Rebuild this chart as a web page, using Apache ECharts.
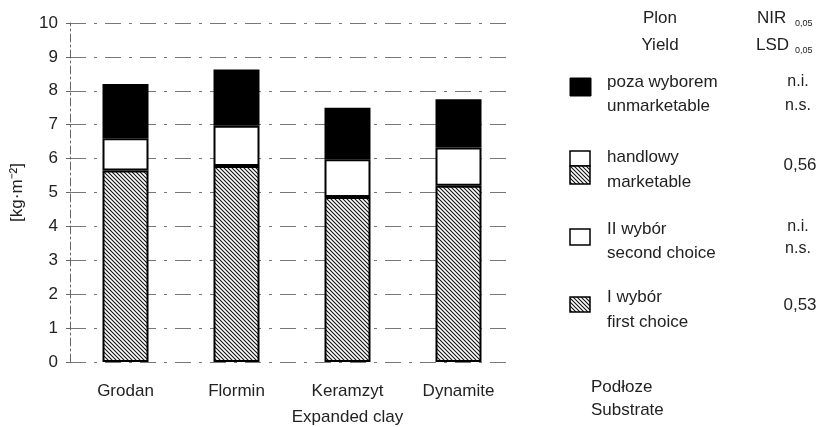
<!DOCTYPE html>
<html><head><meta charset="utf-8">
<script src="https://cdn.jsdelivr.net/npm/echarts@6/dist/echarts.min.js"></script>
<style>html,body{margin:0;padding:0;background:#fff}#c{width:823px;height:427px}</style>
</head><body><div id="c"></div>
<script>
var categories = ['Grodan', 'Flormin', 'Keramzyt\nExpanded clay', 'Dynamite'];
var firstChoice = [5.65, 5.78, 4.87, 5.20];
var secondChoice = [0.95, 1.19, 1.11, 1.13];
var unmarketable = [1.60, 1.66, 1.52, 1.42];
var yTicks = [0, 10, 1];

function hatch() {
  var c = document.createElement('canvas');
  c.width = 4; c.height = 4;
  var g = c.getContext('2d');
  g.fillStyle = '#fff'; g.fillRect(0, 0, 4, 4);
  g.strokeStyle = '#111'; g.lineWidth = 1.1;
  g.beginPath();
  g.moveTo(-1, -1); g.lineTo(5, 5);
  g.moveTo(-1, 3); g.lineTo(1, 5);
  g.moveTo(3, -1); g.lineTo(5, 1);
  g.stroke();
  return c;
}
var pat = { image: hatch(), repeat: 'repeat' };
var F = 'Liberation Sans, Arial, sans-serif';
var TC = '#222';

var chart = echarts.init(document.getElementById('c'));
function txt(x, y, s, size, align) {
  return { type: 'text', x: x, y: y, style: { text: s, fill: TC, font: (size || 17) + 'px ' + F, textAlign: align || 'left', textVerticalAlign: 'middle' } };
}
var graphics = [
  txt(660, 18, 'Plon', 17, 'center'),
  txt(660, 45, 'Yield', 17, 'center'),
  txt(757, 18, 'NIR', 17),
  txt(795, 24, '0,05', 9),
  txt(756, 45, 'LSD', 17),
  txt(795, 51, '0,05', 9),
  { type: 'rect', shape: { x: 570, y: 78, width: 21, height: 18 }, style: { fill: '#000', stroke: '#000', lineWidth: 1 } },
  txt(607, 82, 'poza wyborem'), txt(607, 106, 'unmarketable'),
  txt(798, 82, 'n.i.', 16, 'center'), txt(798, 106, 'n.s.', 16, 'center'),
  { type: 'rect', shape: { x: 570, y: 151, width: 20, height: 15 }, style: { fill: '#fff', stroke: '#000', lineWidth: 1.5 } },
  { type: 'rect', shape: { x: 570, y: 166, width: 20, height: 18 }, style: { fill: pat, stroke: '#000', lineWidth: 1.5 } },
  txt(607, 157, 'handlowy'), txt(607, 182, 'marketable'),
  txt(800, 165, '0,56', 17, 'center'),
  { type: 'rect', shape: { x: 570, y: 229, width: 20, height: 16 }, style: { fill: '#fff', stroke: '#000', lineWidth: 1.5 } },
  txt(607, 229, 'II wybór'), txt(607, 253, 'second choice'),
  txt(798, 227, 'n.i.', 16, 'center'), txt(798, 249, 'n.s.', 16, 'center'),
  { type: 'rect', shape: { x: 570, y: 297, width: 20, height: 15 }, style: { fill: pat, stroke: '#000', lineWidth: 1.5 } },
  txt(607, 297, 'I wybór'), txt(607, 322, 'first choice'),
  txt(800, 305, '0,53', 17, 'center'),
  txt(591, 387, 'Podłoze'), txt(591, 410, 'Substrate')
];
var sBase = { type: 'bar', stack: 'y', barWidth: 46 };
chart.setOption({
  animation: false,
  backgroundColor: '#fff',
  grid: { left: 70, right: 309, top: 23, bottom: 65, containLabel: false, outerBoundsMode: 'none' },
  xAxis: {
    type: 'category', data: categories,
    axisLine: { show: false }, axisTick: { show: false },
    axisLabel: { interval: 0, color: TC, fontFamily: F, fontSize: 17, margin: 16, lineHeight: 26, verticalAlign: 'top' }
  },
  yAxis: {
    type: 'value', min: yTicks[0], max: yTicks[1], interval: yTicks[2],
    name: '[kg·m⁻²]', nameLocation: 'middle', nameGap: 44, nameRotate: 90,
    nameTextStyle: { color: TC, fontFamily: F, fontSize: 17 },
    axisLine: { show: true, lineStyle: { color: '#666', type: [8, 3, 2, 3], width: 1 } },
    axisTick: { show: true, length: 4, lineStyle: { color: '#666' } },
    axisLabel: { color: TC, fontFamily: F, fontSize: 17, margin: 12 },
    splitLine: { show: true, lineStyle: { color: '#777', type: [16, 8, 3, 8], width: 1 } }
  },
  series: [
    Object.assign({}, sBase, { name: 'first choice', data: firstChoice, itemStyle: { color: pat, borderColor: '#000', borderWidth: 2 } }),
    Object.assign({}, sBase, { name: 'second choice', data: secondChoice, itemStyle: { color: '#fff', borderColor: '#000', borderWidth: 2 } }),
    Object.assign({}, sBase, { name: 'unmarketable', data: unmarketable, itemStyle: { color: '#000', borderColor: '#000', borderWidth: 2 } })
  ],
  graphic: graphics
});
</script></body></html>
